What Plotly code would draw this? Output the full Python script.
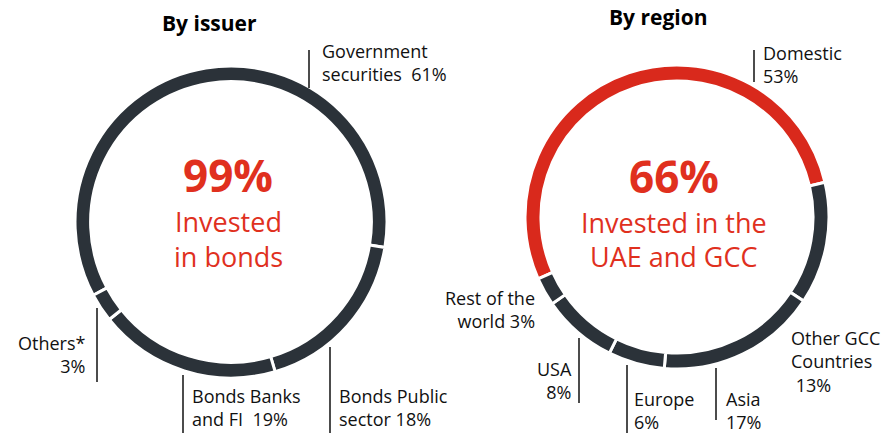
import plotly.graph_objects as go

W, H = 883, 433

# ---------------- data ----------------
issuer_labels = ["Government securities", "Bonds Public sector", "Bonds Banks and FI", "Others*"]
issuer_values = [61, 18, 19, 3]
issuer_texts = ["Government<br>securities&nbsp; 61%", "Bonds Public<br>sector 18%",
                "Bonds Banks<br>and FI&nbsp; 19%", "Others*<br>3%"]

region_labels = ["Domestic", "Other GCC Countries", "Asia", "Europe", "USA", "Rest of the world"]
region_values = [53, 13, 17, 6, 8, 3]
region_texts = ["Domestic<br>53%", "Other GCC<br>Countries<br>&nbsp;13%", "Asia<br>17%",
                "Europe<br>6%", "USA<br>8%", "Rest of the<br>world 3%"]

titles = ["By issuer", "By region"]
center_big = ["99%", "66%"]
center_small = [["Invested", "in bonds"], ["Invested in the", "UAE and GCC"]]

# ---------------- style ----------------
RED = "#D9291C"
TXT_RED = "#E0301E"
DARK = "#2B3239"
FONT = "Open Sans"


def px(x):
    return x / W


def py(y):
    return 1 - y / H


def dom(cx, cy, r):
    return dict(x=[px(cx - r), px(cx + r)], y=[py(cy + r), py(cy - r)])


fig = go.Figure()
fig.add_trace(go.Pie(
    labels=issuer_labels, values=issuer_values, sort=False, direction="clockwise",
    rotation=242, hole=0.9, textinfo="none", hoverinfo="label+percent",
    marker=dict(colors=[DARK] * len(issuer_values), line=dict(color="white", width=3)),
    domain=dom(231, 222, 156), showlegend=False,
))
fig.add_trace(go.Pie(
    labels=region_labels, values=region_values, sort=False, direction="clockwise",
    rotation=246, hole=0.895, textinfo="none", hoverinfo="label+percent",
    marker=dict(colors=[RED] + [DARK] * (len(region_values) - 1), line=dict(color="white", width=3)),
    domain=dom(677, 217, 152), showlegend=False,
))

# label placement: (x, cap-top y, anchor)
issuer_pos = [(322, 45, "left"), (339, 390, "left"), (192, 390, "left"), (85, 337, "right")]
region_pos = [(763, 47, "left"), (791, 332, "left"), (726, 393, "left"), (634, 393, "left"),
              (572, 363, "right"), (535, 292, "right")]
leader_lines = [(309, 50, 88), (330, 347, 433), (183, 375, 433), (97, 308, 382),
                (754, 50, 82), (579, 338, 403), (627, 365, 433), (716, 368, 420)]

annotations = []
for txt, (x, y, anc) in list(zip(issuer_texts, issuer_pos)) + list(zip(region_texts, region_pos)):
    annotations.append(dict(
        text=txt, x=px(x - 2 if anc == "left" else x + 2), y=py(y - 8), xref="paper", yref="paper",
        xanchor=anc, yanchor="top", align=anc, showarrow=False,
        font=dict(family=FONT, size=18, color="#111111"),
    ))

shapes = []
for (x, y0, y1) in leader_lines:
    shapes.append(dict(type="line", xref="paper", yref="paper",
                       x0=px(x), x1=px(x), y0=py(y0), y1=py(y1),
                       line=dict(color="#111111", width=1.5)))

# titles
for t, (x, y) in zip(titles, [(209, 23), (658, 17)]):
    annotations.append(dict(text="<b>%s</b>" % t, x=px(x), y=py(y), xref="paper", yref="paper",
                            xanchor="center", yanchor="middle", showarrow=False,
                            font=dict(family=FONT, size=21, color="#000000")))

# center texts
centers = [(228, [175, 221, 256]), (674, [176, 222, 256])]
for big, small, (cx, ys) in zip(center_big, center_small, centers):
    annotations.append(dict(text="<b>%s</b>" % big, x=px(cx), y=py(ys[0]), xref="paper", yref="paper",
                            xanchor="center", yanchor="middle", showarrow=False,
                            font=dict(family=FONT, size=44, color=TXT_RED)))
    for s, yy in zip(small, ys[1:]):
        annotations.append(dict(text=s, x=px(cx), y=py(yy), xref="paper", yref="paper",
                                xanchor="center", yanchor="middle", showarrow=False,
                                font=dict(family=FONT, size=27, color=TXT_RED)))

fig.update_layout(
    width=W, height=H, margin=dict(l=0, r=0, t=0, b=0),
    paper_bgcolor="white", plot_bgcolor="white",
    annotations=annotations, shapes=shapes,
)

fig.write_html("out.html", config={"displayModeBar": False},
               post_script="document.body.style.margin='0';document.body.style.overflow='hidden';")
